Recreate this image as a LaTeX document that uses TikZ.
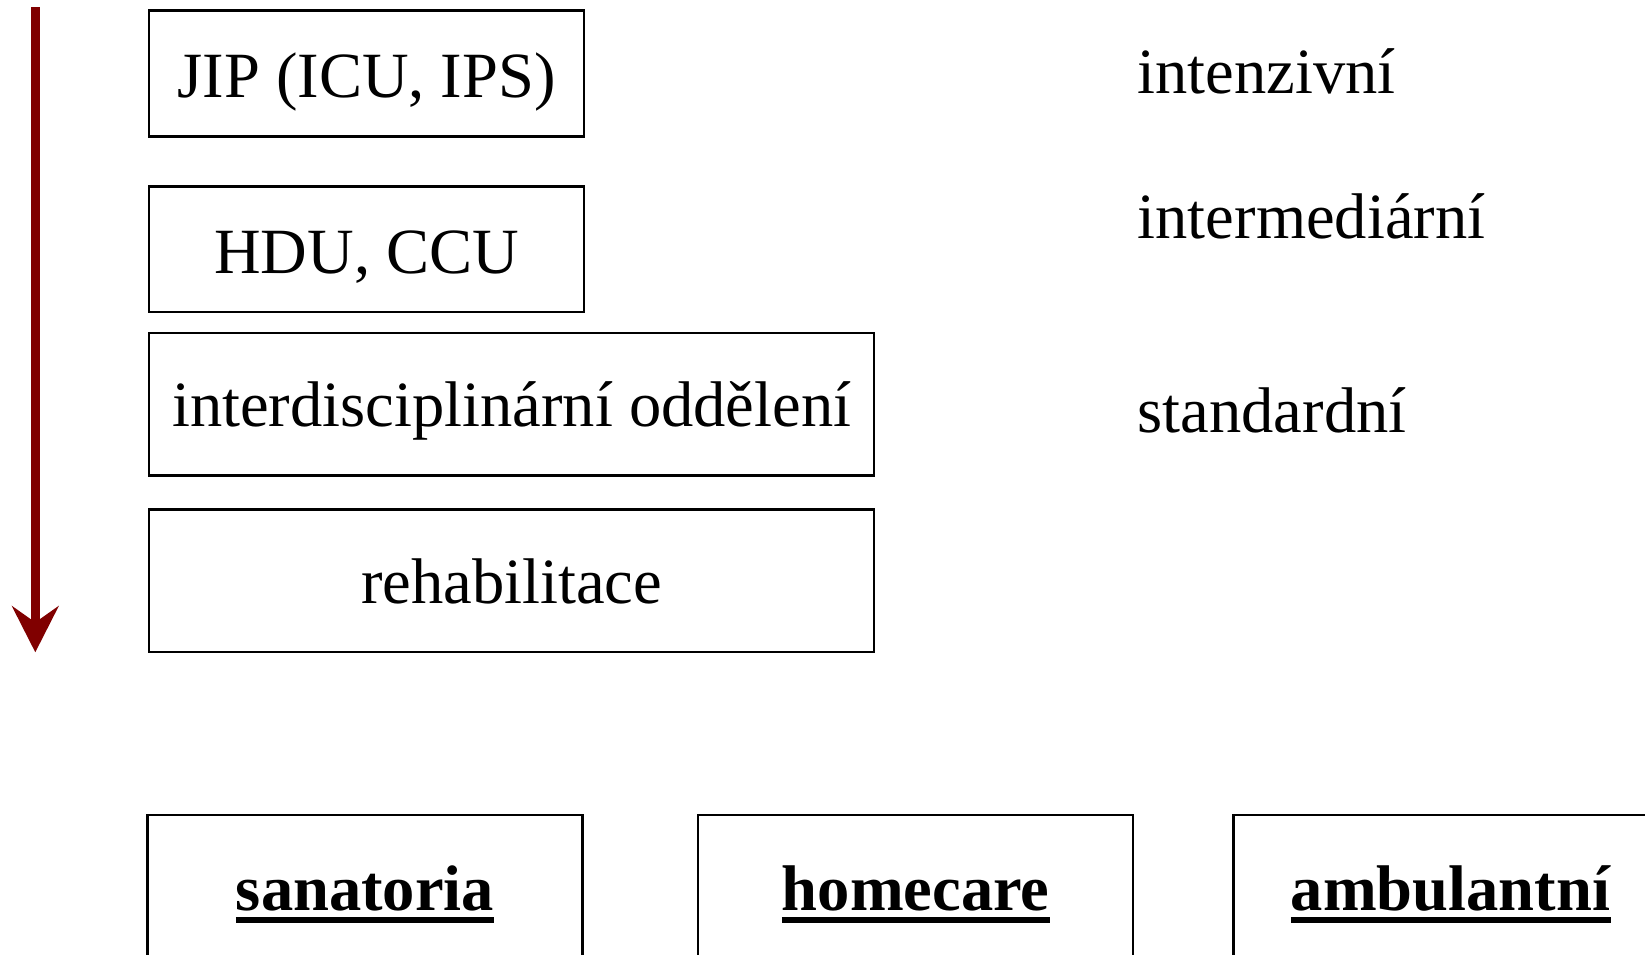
\documentclass[tikz,border=0pt]{standalone}
\usepackage{fontspec}
\setmainfont{Liberation Serif}
\usepackage{tikz}
\usetikzlibrary{arrows.meta}
\usetikzlibrary{positioning}
\definecolor{clrArrow}{RGB}{128,0,0}
\tikzstyle{box_style0}=[draw, line width=0.7pt, inner sep=0pt, anchor=north, text centered]
\tikzstyle{unit_small}=[box_style0, minimum width=123.7pt, text height=24.7pt, text depth=11.1pt]
\tikzstyle{unit_large}=[box_style0, minimum width=206.2pt, text height=26.6pt, text depth=13.9pt]
\tikzstyle{care_box}=[box_style0, minimum width=123.7pt, text height=27.2pt, text depth=60pt]
\tikzstyle{level}=[inner sep=0pt, anchor=base west]
\tikzstyle{myarrow}=[-{Stealth[length=13.1pt, width=13.2pt, inset=4.6pt]}, line width=2.65pt, clrArrow]
\newcommand{\ulbold}[1]{\setbox0=\hbox{\textbf{#1}}\rlap{\rule[-3.4pt]{\wd0}{1.55pt}}\box0}

\begin{document}
\begin{tikzpicture}[x=0.01cm, y=-0.01cm, font=\fontsize{18.35pt}{22pt}\selectfont]
		\clip (0,0) rectangle (1645,954) ;

		% wards, from the most intensive care down
		\node[unit_small] (jip) at (366.65,9.3) {JIP (ICU, IPS)} ;
		\node[unit_small, below=13.5pt of jip] (hdu) {HDU, CCU} ;
		\node[unit_large] (inter) at (511.65,331.7) {interdisciplinární oddělení} ;
		\node[unit_large, below=9pt of inter] (rehab) {rehabilitace} ;

		\coordinate (arrow_top) at (35.3,7.3) ;
		\coordinate (arrow_end) at (35.3,652.3) ;
		\draw[myarrow] (arrow_top) -- (arrow_end) ;

		% levels of care
		\node[level] (lvl_int) at (1137,93) {intenzivní} ;
		\node[level] (lvl_med) at (1137,238) {intermediární} ;
		\node[level] (lvl_std) at (1137,432) {standardní} ;

		% after the hospital
		\node[care_box] (sana) at (365,814) {\ulbold{sanatoria}} ;
		\node[care_box, right=32.2pt of sana] (home) {\ulbold{homecare}} ;
		\node[care_box, right=27.75pt of home] (ambu) {\ulbold{ambulantní}} ;
\end{tikzpicture}
\end{document}
